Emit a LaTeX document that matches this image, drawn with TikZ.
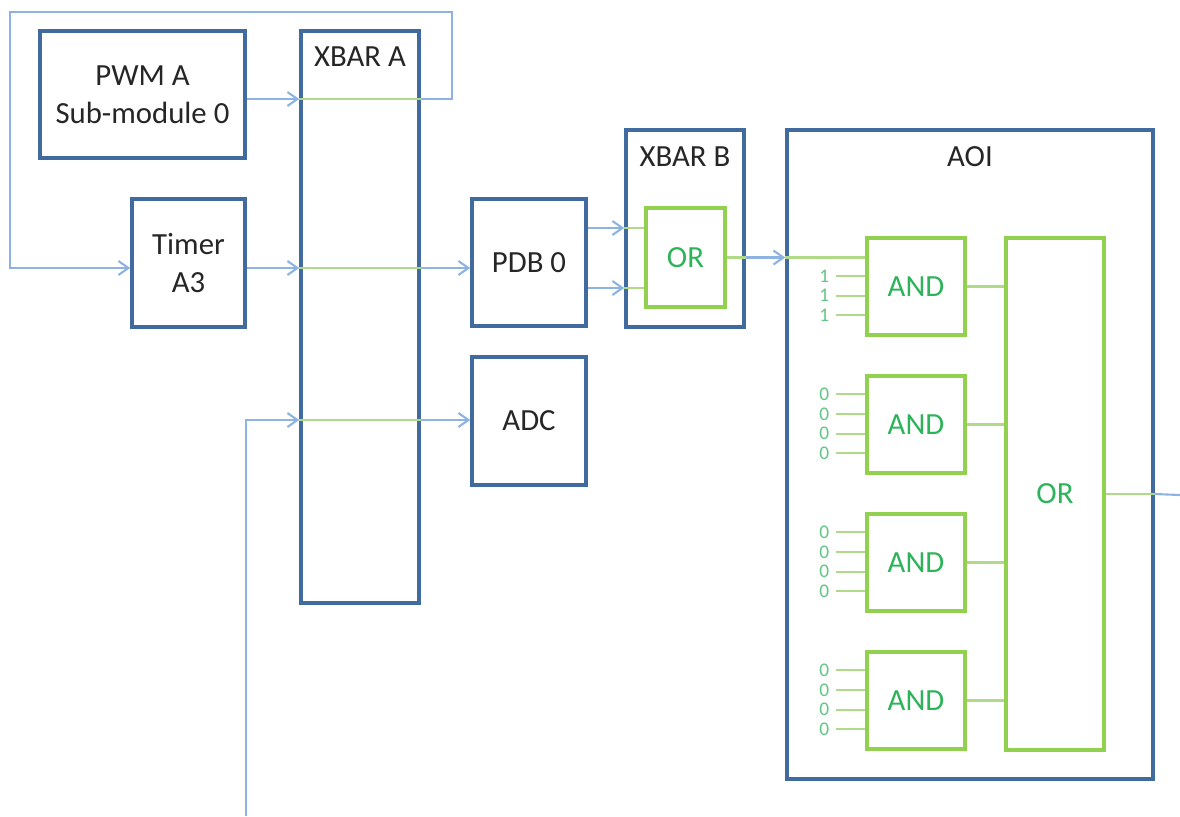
\documentclass[tikz,border=0pt]{standalone}
\usepackage{fontspec}
\setmainfont{Carlito}
\usetikzlibrary{arrows.meta, calc, positioning}
\definecolor{boxblue}{HTML}{416A9F}
\definecolor{wireblue}{HTML}{8DB3E2}
\definecolor{gateline}{HTML}{92D050}
\definecolor{gatetext}{HTML}{2DB35A}
\definecolor{gatewire}{HTML}{B0DA88}

\begin{document}
\begin{tikzpicture}[
    x=0.02cm, y=-0.02cm,
    font=\fontsize{17.5}{21.5}\selectfont,
    blk/.style={rectangle, draw=boxblue, line width=2pt, fill=white,
                align=center, inner sep=0pt, text=black!85},
    gate/.style={rectangle, draw=gateline, line width=2pt, fill=white,
                 align=center, inner sep=0pt, text=gatetext},
    wire/.style={draw=wireblue, line width=1.2pt,
                 -{Straight Barb[length=2mm, width=2.8mm]}},
    bus/.style={draw=wireblue, line width=1.2pt},
    gwire/.style={draw=gatewire, line width=1.2pt},
    lvl/.style={font=\fontsize{11}{11}\selectfont, text=gatetext!75, inner sep=0pt},
    ttl/.style={text=black!85, inner sep=0pt},
]

\useasboundingbox (0,0) rectangle (1180,816);

% signal rows and free ends
\coordinate (r1) at (0,99);
\coordinate (r2) at (0,268);
\coordinate (r3) at (0,420);
\coordinate (r4) at (0,228);
\coordinate (r5) at (0,288);
\coordinate (fb1) at (452,12);
\coordinate (fb2) at (10,268);
\coordinate (adcin) at (246,816);
\coordinate (aoiout) at (1180,495);

% sources and crossbar A
\node[blk, minimum width=4.1cm, minimum height=2.54cm] (pwm) at (142.5,94.5)
    {PWM A\\Sub-module 0};
\node[blk, minimum width=2.36cm, minimum height=11.44cm] (xbara) at (360,317) {};
\node[ttl] (xbaralbl) at ($(xbara.north)+(0,27)$) {XBAR A};
\node[blk, minimum width=2.26cm, minimum height=2.56cm] (timer) at (188.5,263)
    {Timer\\A3};

% PDB, ADC and crossbar B
\node[blk, minimum width=2.28cm, minimum height=2.54cm] (pdb) at (529,262.5) {PDB 0};
\node[blk, minimum width=2.28cm, minimum height=2.56cm] (adc) at (529,421) {ADC};
\node[blk, minimum width=2.36cm, minimum height=3.94cm] (xbarb) at (685,228.5) {};
\node[ttl] (xbarblbl) at ($(xbarb.north)+(0,28)$) {XBAR B};
\node[gate, minimum width=1.58cm, minimum height=1.98cm] (orb) at (685.5,257.5) {OR};

% AOI block
\node[blk, minimum width=7.32cm, minimum height=12.98cm] (aoi) at (970,454.5) {};
\node[ttl] (aoilbl) at ($(aoi.north)+(0,28)$) {AOI};
\foreach \i/\y in {1/286.5, 2/424.5, 3/562.5, 4/700.5} {
    \node[gate, minimum width=1.96cm, minimum height=1.94cm] (and\i) at (916,\y) {AND};
}
\node[gate, minimum width=1.96cm, minimum height=10.24cm] (orbig) at (1055,494) {OR};

% crossbar A routing
\draw[wire] (pwm.east |- r1) -- (xbara.west |- r1);
\draw[gwire] (xbara.west |- r1) -- (xbara.east |- r1);
\draw[wire] (xbara.east |- r1) -| (fb1) -| (fb2) -- (timer.west |- r2);
\draw[wire] (timer.east |- r2) -- (xbara.west |- r2);
\draw[gwire] (xbara.west |- r2) -- (xbara.east |- r2);
\draw[wire] (xbara.east |- r2) -- (pdb.west |- r2);
\draw[wire] (adcin) |- (xbara.west |- r3);
\draw[gwire] (xbara.west |- r3) -- (xbara.east |- r3);
\draw[wire] (xbara.east |- r3) -- (adc.west |- r3);

% crossbar B routing
\foreach \r in {r4, r5} {
    \draw[wire] (pdb.east |- \r) -- (xbarb.west |- \r);
    \draw[gwire] (xbarb.west |- \r) -- (orb.west |- \r);
}
\draw[gwire] (orb.east) -- (xbarb.east |- orb.east);
\draw[wire] (xbarb.east |- orb.east) -- (aoi.west |- orb.east);
\draw[gwire] (aoi.west |- orb.east) -- (and1.west |- orb.east);

% constant inputs
\foreach \k in {1,2,3} {
    \coordinate (a1in\k) at ($(and1.north west)+(0,20+19.7*\k)$);
    \node[lvl] (a1v\k) at ($(a1in\k)+(-41,0)$) {1};
    \draw[gwire] ($(a1in\k)+(-29,0)$) -- (a1in\k);
}
\foreach \i in {2,3,4} {
    \foreach \k in {0,1,2,3} {
        \coordinate (a\i in\k) at ($(and\i.north west)+(0,20+19.7*\k)$);
        \node[lvl] (a\i v\k) at ($(a\i in\k)+(-41,0)$) {0};
        \draw[gwire] ($(a\i in\k)+(-29,0)$) -- (a\i in\k);
    }
}

% gate outputs
\foreach \i in {1,...,4} {
    \draw[gwire] (and\i.east) -- (orbig.west |- and\i.east);
}
\draw[gwire] (orbig.east) -- (aoi.east |- orbig.east);
\draw[bus] (aoi.east |- orbig.east) -- (aoiout);

\end{tikzpicture}
\end{document}
